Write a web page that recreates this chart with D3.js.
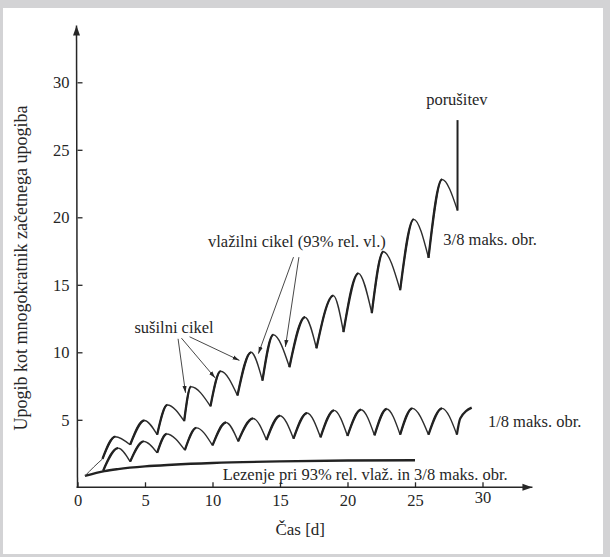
<!DOCTYPE html>
<html>
<head>
<meta charset="utf-8">
<script src="https://d3js.org/d3.v7.min.js"></script>
<style>
  body { margin: 0; background: #d3d3d5; }
  svg { display: block; }
  text { font-family: "Liberation Serif", "Times New Roman", Times, "DejaVu Serif", serif; fill: #262626; }
</style>
</head>
<body>
<script>
// ---- data ----
var xTicks = [0, 5, 10, 15, 20, 25, 30];
var yTicks = [5, 10, 15, 20, 25, 30];

// 3/8 max load, cyclic humidity: troughs and peaks
var upperTroughT = [1.85, 3.9, 5.9, 7.9, 9.85, 11.85, 13.7, 15.7, 17.7, 19.7, 21.8, 23.9, 26.0, 28.15];
var upperTroughV = [2.1, 3.15, 3.9, 4.9, 6.0, 6.8, 7.9, 8.9, 10.3, 11.5, 12.9, 14.6, 17.0, 20.5];
var upperPeakT = [2.8, 4.95, 6.65, 8.4, 10.6, 12.85, 14.5, 16.85, 18.95, 20.8, 22.65, 24.9, 27.0];
var upperPeakV = [3.75, 4.95, 6.1, 7.45, 8.6, 10.0, 11.3, 12.6, 14.2, 15.85, 17.45, 19.85, 22.8];
var failureV = 27.2;

// 1/8 max load, cyclic humidity
var lowerTroughT = [1.9, 3.9, 5.9, 7.95, 10.0, 11.9, 14.0, 16.0, 18.0, 20.0, 22.0, 23.9, 26.0, 28.1];
var lowerTroughV = [1.23, 1.9, 2.55, 2.75, 3.1, 3.4, 3.5, 3.6, 3.7, 3.8, 3.85, 3.9, 3.9, 3.9];
var lowerPeakT = [3.0, 4.9, 6.6, 8.8, 11.0, 13.0, 15.0, 17.0, 19.0, 21.0, 22.9, 24.8, 27.0];
var lowerPeakV = [2.9, 3.4, 3.95, 4.4, 4.8, 5.1, 5.3, 5.5, 5.7, 5.75, 5.8, 5.85, 5.85];
var lowerEndT = [28.1, 28.35, 29.2];
var lowerEndV = [3.9, 5.1, 5.9];

// creep at 93% RH and 3/8 max load
var creepT = [0.55, 2, 3, 5, 7, 10, 15, 20, 25];
var creepV = [0.84, 1.2, 1.35, 1.55, 1.67, 1.8, 1.92, 1.98, 2.0];

// thin lead-in to the 3/8 curve
var leadT = [0.55, 1.2, 1.85];
var leadV = [0.84, 1.5, 2.1];

// ---- layout ----
var W = 610, H = 557;
var FONT = "'Liberation Serif', 'Times New Roman', Times, 'DejaVu Serif', serif";
var x = d3.scaleLinear().domain([0, 30]).range([77.5, 482.5]);
var y = d3.scaleLinear().domain([0, 30]).range([487.3, 82.3]);

var svg = d3.select("body").append("svg")
    .attr("width", W)
    .attr("height", H);

svg.append("rect")
    .attr("x", 3).attr("y", 8)
    .attr("width", 600).attr("height", 546)
    .attr("fill", "#fff");

var defs = svg.append("defs");
defs.append("marker")
    .attr("id", "ax")
    .attr("viewBox", "0 0 10 10")
    .attr("refX", 10).attr("refY", 5)
    .attr("markerWidth", 10).attr("markerHeight", 10)
    .attr("markerUnits", "userSpaceOnUse")
    .attr("orient", "auto")
    .append("path")
    .attr("d", "M0,1.5L10,5L0,8.5Z")
    .attr("fill", "#262626");
defs.append("marker")
    .attr("id", "ann")
    .attr("viewBox", "0 0 10 10")
    .attr("refX", 10).attr("refY", 5)
    .attr("markerWidth", 7).attr("markerHeight", 7)
    .attr("markerUnits", "userSpaceOnUse")
    .attr("orient", "auto")
    .append("path")
    .attr("d", "M0,2L10,5L0,8Z")
    .attr("fill", "#262626");

// axes
var xAxis = svg.append("g")
    .attr("transform", "translate(0," + y(0) + ")")
    .call(d3.axisBottom(x).tickValues(xTicks).tickSize(-5).tickSizeOuter(0).tickPadding(7))
    .attr("font-family", FONT);
xAxis.select(".domain").remove();
xAxis.selectAll("text").attr("font-size", 16.5).attr("fill", "#262626")
    .attr("dy", function(d) { return d == 30 ? "0.5em" : "0.71em"; });
xAxis.selectAll("line").attr("stroke", "#262626").attr("stroke-width", 1.3);

var yAxis = svg.append("g")
    .attr("transform", "translate(" + x(0) + ",0)")
    .call(d3.axisLeft(y).tickValues(yTicks).tickSize(-5).tickSizeOuter(0).tickPadding(8))
    .attr("font-family", FONT);
yAxis.select(".domain").remove();
yAxis.selectAll("text").attr("font-size", 16.5).attr("fill", "#262626");
yAxis.selectAll("line").attr("stroke", "#262626").attr("stroke-width", 1.3);

svg.append("line")
    .attr("x1", x(0) - 1).attr("y1", y(0))
    .attr("x2", x(33.7)).attr("y2", y(0))
    .attr("stroke", "#262626").attr("stroke-width", 1.5)
    .attr("marker-end", "url(#ax)");
svg.append("line")
    .attr("x1", x(0)).attr("y1", y(0))
    .attr("x2", x(0) - 1).attr("y2", y(34.2))
    .attr("stroke", "#262626").attr("stroke-width", 1.5)
    .attr("marker-end", "url(#ax)");

// curves
var line = d3.line()
    .x(function(d) { return x(d[0]); })
    .y(function(d) { return y(d[1]); })
    .curve(d3.curveMonotoneX);

var plot = svg.append("g");
var clipN = 0;

function drawCycles(trT, trV, pkT, pkV) {
    for (var i = 0; i < pkT.length; i++) {
        var pts = [[trT[i], trV[i]], [pkT[i], pkV[i]], [trT[i + 1], trV[i + 1]]];
        var d = line(pts);
        plot.append("path")
            .attr("d", d)
            .attr("fill", "none")
            .attr("stroke", "#2e2e2e")
            .attr("stroke-width", 1.4);
        // the rising (drying) part is drawn heavier
        var id = "c" + (clipN++);
        defs.append("clipPath").attr("id", id)
            .append("rect")
            .attr("x", x(trT[i]) - 3).attr("y", 0)
            .attr("width", x(pkT[i]) - x(trT[i]) + 3).attr("height", H);
        plot.append("path")
            .attr("d", d)
            .attr("fill", "none")
            .attr("stroke", "#222")
            .attr("stroke-width", 2.3)
            .attr("clip-path", "url(#" + id + ")");
    }
}

drawCycles(upperTroughT, upperTroughV, upperPeakT, upperPeakV);
drawCycles(lowerTroughT, lowerTroughV, lowerPeakT, lowerPeakV);

plot.append("path")
    .attr("d", line(lowerEndT.map(function(t, i) { return [t, lowerEndV[i]]; })))
    .attr("fill", "none").attr("stroke", "#222").attr("stroke-width", 2.3);

var lastT = upperTroughT[upperTroughT.length - 1];
var lastV = upperTroughV[upperTroughV.length - 1];
plot.append("path")
    .attr("d", d3.line()([[x(lastT), y(lastV)], [x(lastT), y(failureV)]]))
    .attr("fill", "none").attr("stroke", "#222").attr("stroke-width", 2);

plot.append("path")
    .attr("d", line(creepT.map(function(t, i) { return [t, creepV[i]]; })))
    .attr("fill", "none").attr("stroke", "#222").attr("stroke-width", 2.4);

plot.append("path")
    .attr("d", line(leadT.map(function(t, i) { return [t, leadV[i]]; })))
    .attr("fill", "none").attr("stroke", "#444").attr("stroke-width", 1);

// annotations
function arrow(t0, v0, t1, v1) {
    svg.append("line")
        .attr("x1", x(t0)).attr("y1", y(v0))
        .attr("x2", x(t1)).attr("y2", y(v1))
        .attr("stroke", "#333").attr("stroke-width", 0.9)
        .attr("marker-end", "url(#ann)");
}
arrow(7.45, 11.0, 8.0, 7.0);
arrow(7.7, 11.05, 10.2, 8.1);
arrow(8.3, 11.15, 12.0, 9.4);
arrow(16.0, 17.05, 13.4, 9.9);
arrow(16.4, 17.05, 15.4, 10.4);

function label(txt, t, v, anchor) {
    svg.append("text")
        .attr("x", x(t)).attr("y", y(v))
        .attr("text-anchor", anchor || "start")
        .attr("font-family", FONT)
        .attr("font-size", 16.5)
        .text(txt);
}
label("sušilni cikel", 7.15, 11.4, "middle");
label("vlažilni cikel (93% rel. vl.)", 9.67, 17.8);
label("porušitev", 28.1, 28.3, "middle");
label("3/8 maks. obr.", 27.1, 17.95);
label("1/8 maks. obr.", 30.4, 4.5);
label("Lezenje pri 93% rel. vlaž. in 3/8 maks. obr.", 10.75, 0.55);

svg.append("text")
    .attr("x", x(16.5)).attr("y", 535)
    .attr("text-anchor", "middle")
    .attr("font-family", FONT)
    .attr("font-size", 17)
    .text("Čas [d]");

svg.append("text")
    .attr("transform", "translate(27,268) rotate(-90)")
    .attr("text-anchor", "middle")
    .attr("font-family", FONT)
    .attr("font-size", 18)
    .text("Upogib kot mnogokratnik začetnega upogiba");
</script>
</body>
</html>
